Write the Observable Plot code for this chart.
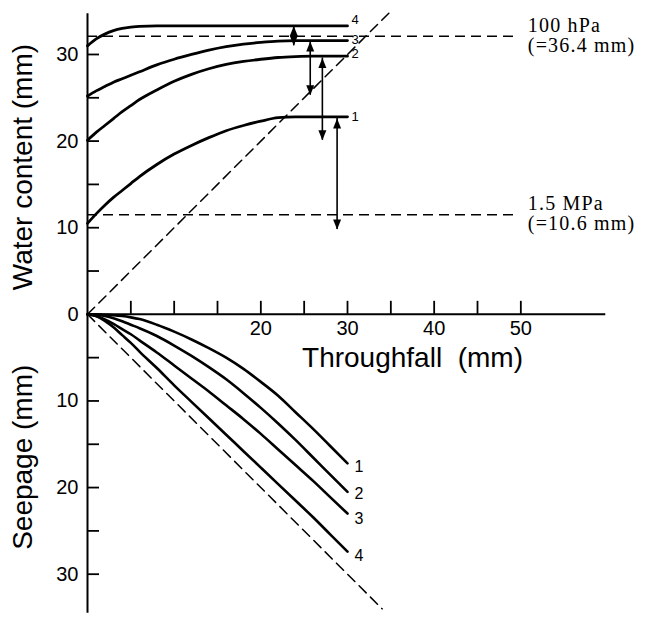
<!DOCTYPE html>
<html><head><meta charset="utf-8">
<script src="https://cdn.jsdelivr.net/npm/d3@7"></script>
<script src="https://cdn.jsdelivr.net/npm/@observablehq/plot@0.6"></script>
<style>
html,body{margin:0;padding:0;background:#fff;}
#chart svg g[font-family="Liberation Serif"]{letter-spacing:0.06em;}
</style></head><body><div id="chart"></div>
<script>
// Throughfall (mm) sample points
const throughfall = [0,1,2,3,4,5,6,8,10,12,14,16,18,20,22,24,26,28,30];
// Water content (mm) for the four cases
const water1 = [10.5,11.6,12.6,13.5,14.3,15.1,15.9,17.3,18.5,19.5,20.4,21.2,21.8,22.3,22.7,22.8,22.8,22.8,22.8];
const water2 = [20.1,21.0,21.8,22.6,23.4,24.1,24.8,25.9,26.9,27.7,28.35,28.85,29.2,29.45,29.65,29.75,29.8,29.8,29.8];
const water3 = [25.2,25.8,26.3,26.8,27.2,27.6,28.0,28.8,29.45,30.0,30.5,30.9,31.2,31.4,31.55,31.6,31.6,31.6,31.6];
const water4 = [31.0,31.8,32.35,32.75,33.0,33.15,33.25,33.3,33.3,33.3,33.3,33.3,33.3,33.3,33.3,33.3,33.3,33.3,33.3];
// Seepage (mm) for the four cases
const seep1 = [0,0,0.05,0.1,0.2,0.35,0.55,1.2,2.0,2.9,3.9,5.0,6.3,7.8,9.4,11.3,13.2,15.2,17.2];
const seep2 = [0,0.05,0.2,0.45,0.8,1.2,1.6,2.5,3.6,4.8,6.1,7.5,9.1,10.8,12.6,14.5,16.5,18.5,20.5];
const seep3 = [0,0.2,0.6,1.1,1.7,2.3,3.0,4.4,5.9,7.4,8.9,10.5,12.1,13.8,15.6,17.4,19.2,21.1,23.0];
const seep4 = [0,0.2,0.75,1.5,2.4,3.3,4.3,6.2,8.2,10.1,12.0,13.9,15.8,17.7,19.6,21.5,23.4,25.4,27.4];
const seriesNames = ["1","2","3","4"];
// Change of water content arrows
const arrowX = [28.8, 27.1, 25.7, 23.8];
const arrowLow = [9.8, 20.1, 25.3, 31.0];
const arrowHigh = [22.6, 29.6, 31.5, 33.3];
// Reference levels
const pressureLevels = [32.1, 11.5];
const pressureLabels = ["100 hPa\n(=36.4 mm)", "1.5 MPa\n(=10.6 mm)"];
const diagUpper = [0, 35];
const diagLower = [0, 34];
// Ticks
const xTicks = [5,10,15,20,25,30,35,40,45,50];
const xTickLabels = [20,30,40,50];
const waterTicks = [5,10,15,20,25,30];
const waterTickLabels = [0,10,20,30];
const seepTicks = [5,10,15,20,25,30];
const seepTickLabels = [10,20,30];

const waters = [water1, water2, water3, water4];
const seeps = [seep1, seep2, seep3, seep4];
const waterRows = seriesNames.flatMap((s, k) => throughfall.map((t, i) => ({series: s, t, v: waters[k][i]})));
const seepRows = seriesNames.flatMap((s, k) => throughfall.map((t, i) => ({series: s, t, v: seeps[k][i]})));
const arrows = arrowX.map((x, i) => ({x, lo: arrowLow[i], hi: arrowHigh[i]}));

const sans = "Liberation Sans";
const serif = "Liberation Serif";
const dash = "10,6";
const topNudge = [0, -2, -1, -6];
const botNudge = [4, 1.5, 5, 4];

const marks = [
  // axes
  Plot.ruleX([0], {y1: -34.5, y2: 34.7, strokeWidth: 2}),
  Plot.ruleY([0], {x1: 0, x2: 59.8, strokeWidth: 2}),
  Plot.ruleY(waterTicks, {y: d => d, x1: 0, x2: 0, insetRight: -12, strokeWidth: 1.8}),
  Plot.ruleY(seepTicks, {y: d => -d, x1: 0, x2: 0, insetRight: -12, strokeWidth: 1.8}),
  Plot.ruleX(xTicks, {x: d => d, y1: 0, y2: 0, insetTop: -13, strokeWidth: 1.8}),
  Plot.text(waterTickLabels, {x: 0, y: d => d, text: d => String(d), textAnchor: "end", dx: -9, fontSize: 20, fontFamily: sans}),
  Plot.text(seepTickLabels, {x: 0, y: d => -d, text: d => String(d), textAnchor: "end", dx: -9, fontSize: 20, fontFamily: sans}),
  Plot.text(xTickLabels, {x: d => d, y: 0, text: d => String(d), dy: 14, fontSize: 20, fontFamily: sans}),
  Plot.text(["Throughfall\u00a0\u00a0(mm)"], {x: 37.5, y: 0, dy: 44, fontSize: 28, fontFamily: sans}),
  Plot.text(["Water content (mm)"], {x: 0, y: 17.0, dx: -64, rotate: -90, fontSize: 28, fontFamily: sans}),
  Plot.text(["Seepage (mm)"], {x: 0, y: -16.5, dx: -64, rotate: -90, fontSize: 28, fontFamily: sans}),
  // reference lines
  Plot.line(diagUpper, {x: d => d, y: d => d, strokeWidth: 1.5, strokeDasharray: dash}),
  Plot.line(diagLower, {x: d => d, y: d => -d, strokeWidth: 1.5, strokeDasharray: dash}),
  Plot.ruleY(pressureLevels, {y: d => d, x1: 0, x2: 49.5, strokeWidth: 1.5, strokeDasharray: dash}),
  Plot.text(pressureLevels, {x: 50.8, y: d => d, dy: -1, text: (d, i) => pressureLabels[i], textAnchor: "start", lineAnchor: "middle", lineHeight: 1.02, fontSize: 20, fontFamily: serif}),
  // curves
  Plot.line(waterRows, {x: "t", y: "v", z: "series", curve: "monotone-x", stroke: "black", strokeWidth: 2.8}),
  Plot.line(seepRows, {x: "t", y: d => -d.v, z: "series", curve: "monotone-x", stroke: "black", strokeWidth: 2.6}),
  // arrows
  Plot.ruleX(arrows, {x: "x", y1: "lo", y2: "hi", strokeWidth: 1.6}),
  Plot.vector(arrows, {x: "x", y: "hi", rotate: 0, anchor: "end", length: 10, r: 4, shape: "spike", fill: "black", stroke: "none"}),
  Plot.vector(arrows, {x: "x", y: "lo", rotate: 180, anchor: "end", length: 10, r: 4, shape: "spike", fill: "black", stroke: "none"})
];
seriesNames.forEach((s, k) => {
  const w = waters[k], sp = seeps[k];
  marks.push(Plot.text([s], {x: throughfall[throughfall.length - 1], y: w[w.length - 1], dx: 4, dy: topNudge[k], text: d => d, textAnchor: "start", fontSize: 13, fontFamily: sans}));
  marks.push(Plot.text([s], {x: throughfall[throughfall.length - 1], y: -sp[sp.length - 1], dx: 7, dy: botNudge[k], text: d => d, textAnchor: "start", fontSize: 16, fontFamily: sans}));
});

const chart = Plot.plot({
  width: 645, height: 617,
  marginLeft: 87, marginRight: 38, marginTop: 10.67, marginBottom: 0,
  x: {domain: [0, 60], axis: null},
  y: {domain: [-35, 35], axis: null},
  style: {background: "white", color: "black"},
  marks
});
document.getElementById("chart").appendChild(chart);
</script></body></html>
